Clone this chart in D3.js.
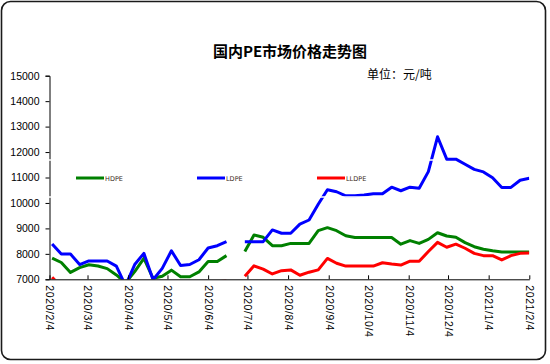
<!DOCTYPE html>
<html>
<head>
<meta charset="utf-8">
<script src="https://cdn.jsdelivr.net/npm/d3@7"></script>
<style>
  body { margin: 0; background: #fff; }
  svg { display: block; }
</style>
</head>
<body>
<svg id="pe-chart" width="550" height="364"></svg>
<script>
// weekly dates (Thursdays), 2020/6/25 holiday has no quote
var dates = ["2020-02-06","2020-02-13","2020-02-20","2020-02-27","2020-03-05","2020-03-12","2020-03-19","2020-03-26",
  "2020-04-02","2020-04-09","2020-04-16","2020-04-23","2020-04-30","2020-05-07","2020-05-14","2020-05-21","2020-05-28",
  "2020-06-04","2020-06-11","2020-06-18","2020-06-25","2020-07-02","2020-07-09","2020-07-16","2020-07-23","2020-07-30",
  "2020-08-06","2020-08-13","2020-08-20","2020-08-27","2020-09-03","2020-09-10","2020-09-17","2020-09-24","2020-10-01",
  "2020-10-08","2020-10-15","2020-10-22","2020-10-29","2020-11-05","2020-11-12","2020-11-19","2020-11-26","2020-12-03",
  "2020-12-10","2020-12-17","2020-12-24","2020-12-31","2021-01-07","2021-01-14","2021-01-21","2021-01-28","2021-02-04"];

var hdpe = [7830, 7660, 7270, 7460, 7570, 7520, 7420, 7170, 6860, 7300, 7820, 7040, 7120, 7360, 7100, 7100, 7290,
  7700, 7700, 7930, null, 8090, 8740, 8650, 8320, 8320, 8410, 8410, 8410, 8910, 9030, 8910, 8710, 8640, 8640,
  8640, 8640, 8640, 8380, 8520, 8410, 8570, 8830, 8700, 8650, 8440, 8280, 8180, 8120, 8070, 8070, 8070, 8070];

var ldpe = [8390, 7990, 7990, 7580, 7720, 7720, 7720, 7520, 6750, 7580, 8020, 6980, 7430, 8120, 7540, 7580, 7770,
  8230, 8320, 8480, null, 8480, 8480, 8480, 8940, 8810, 8810, 9170, 9330, 9950, 10520, 10440, 10280, 10280, 10310,
  10360, 10360, 10620, 10480, 10620, 10580, 11230, 12600, 11720, 11720, 11520, 11320, 11220, 10990, 10610, 10610, 10890, 10970];

var lldpe = [7080, 6700, 6650, 6600, 6550, 6500, 6400, 6300, 6100, 6200, 6400, 6300, 6400, 6500, 6600, 6700, 6800,
  6900, 6900, 6950, null, 7120, 7530, 7400, 7210, 7340, 7370, 7160, 7280, 7370, 7820, 7630, 7520, 7520, 7520,
  7520, 7650, 7600, 7560, 7710, 7710, 8090, 8450, 8260, 8380, 8220, 8020, 7930, 7930, 7760, 7930, 8020, 8030];

var seriesNames = ["HDPE", "LDPE", "LLDPE"];
var seriesColours = ["#008000", "#0000ff", "#ff0000"];

var tickLabels = ["2020/2/4","2020/3/4","2020/4/4","2020/5/4","2020/6/4","2020/7/4","2020/8/4",
  "2020/9/4","2020/10/4","2020/11/4","2020/12/4","2021/1/4","2021/2/4"];
var yTicks = [7000, 8000, 9000, 10000, 11000, 12000, 13000, 14000, 15000];

var svg = d3.select("#pe-chart");
var plot = {left: 49.5, right: 529.3, top: 75.7, bottom: 279.3};

var parseDay = d3.timeParse("%Y-%m-%d");
var parseTick = d3.timeParse("%Y/%m/%d");
var tickDates = tickLabels.map(function(t) { return parseTick(t); });

var x = d3.scaleTime()
    .domain([tickDates[0], tickDates[tickDates.length - 1]])
    .range([plot.left, plot.right]);
var y = d3.scaleLinear()
    .domain([7000, 15000])
    .range([plot.bottom, plot.top]);

// outer frame
svg.append("rect")
    .attr("x", 1.5).attr("y", 1.5)
    .attr("width", 544).attr("height", 358)
    .attr("rx", 9).attr("ry", 9)
    .attr("fill", "#fff")
    .attr("stroke", "#1a1a1a")
    .attr("stroke-width", 1.6);

svg.append("text")
    .attr("x", 290)
    .attr("y", 57)
    .attr("text-anchor", "middle")
    .style("font-family", "'Noto Sans CJK SC', sans-serif")
    .style("font-size", "15px")
    .style("font-weight", "bold")
    .text("国内PE市场价格走势图");

svg.append("text")
    .attr("x", 367)
    .attr("y", 79)
    .style("font-family", "'Noto Sans CJK SC', sans-serif")
    .style("font-size", "12px")
    .text("单位：元/吨");

svg.append("clipPath")
    .attr("id", "plot-clip")
  .append("rect")
    .attr("x", plot.left).attr("y", plot.top)
    .attr("width", plot.right - plot.left)
    .attr("height", plot.bottom - plot.top);

var allSeries = [hdpe, ldpe, lldpe];
var line = d3.line()
    .defined(function(d) { return d.v != null; })
    .x(function(d) { return x(d.date); })
    .y(function(d) { return y(d.v); });

for (var i = 0; i < allSeries.length; i++) {
  var rows = dates.map(function(d, j) { return {date: parseDay(d), v: allSeries[i][j]}; });
  svg.append("path")
      .datum(rows)
      .attr("clip-path", "url(#plot-clip)")
      .attr("fill", "none")
      .attr("stroke", seriesColours[i])
      .attr("stroke-width", 3)
      .attr("stroke-linejoin", "round")
      .attr("d", line);
}

// y axis
var yAxis = svg.append("g")
    .attr("transform", "translate(" + plot.left + ",0)")
    .call(d3.axisLeft(y).tickValues(yTicks).tickSize(4).tickPadding(6).tickFormat(d3.format("d")));
yAxis.selectAll("text")
    .style("font-family", "'Liberation Sans', Arial, sans-serif")
    .style("font-size", "10.5px")
    .attr("fill", "#000");

// x axis, ticks point up into the plot
var xAxis = svg.append("g")
    .attr("transform", "translate(0," + plot.bottom + ")")
    .call(d3.axisBottom(x).tickValues(tickDates).tickSizeInner(-4).tickSizeOuter(0)
      .tickFormat(function(d, i) { return tickLabels[i]; }));
xAxis.selectAll("text")
    .attr("transform", "rotate(90)")
    .attr("x", 6)
    .attr("y", 0)
    .attr("dy", "0.35em")
    .attr("text-anchor", "start")
    .style("font-family", "'Liberation Sans', Arial, sans-serif")
    .style("font-size", "10.5px")
    .style("letter-spacing", "0.6px")
    .attr("fill", "#000");
svg.selectAll(".domain").attr("stroke", "#000");
svg.selectAll(".tick line").attr("stroke", "#000");

// legend, its white border cuts through the lines like the original
var legendX = [76, 197, 317];
var legend = svg.append("g");
legend.append("rect")
    .attr("x", 44).attr("y", 160)
    .attr("width", 396).attr("height", 37)
    .attr("fill", "none")
    .attr("stroke", "#fff")
    .attr("stroke-width", 1.5);
for (var k = 0; k < seriesNames.length; k++) {
  legend.append("line")
      .attr("x1", legendX[k]).attr("x2", legendX[k] + 28)
      .attr("y1", 178).attr("y2", 178)
      .attr("stroke", seriesColours[k])
      .attr("stroke-width", 3);
  legend.append("text")
      .attr("x", legendX[k] + 29)
      .attr("y", 180.5)
      .style("font-family", "'DejaVu Sans', sans-serif")
      .style("font-size", "6.5px")
      .attr("fill", "#3a2a1a")
      .text(seriesNames[k]);
}
</script>
</body>
</html>
